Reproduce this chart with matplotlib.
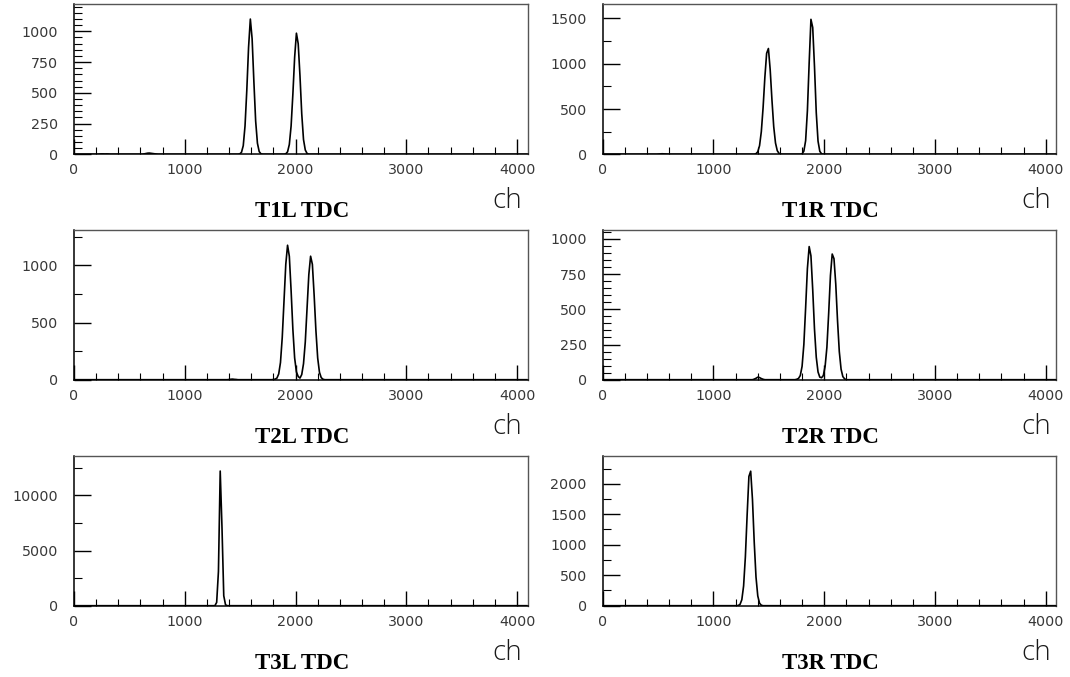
import numpy as np
import matplotlib
matplotlib.use('Agg')
import matplotlib.pyplot as plt
from matplotlib.ticker import MultipleLocator

# TDC spectra, 4096 channels grouped in 16-channel bins
BIN = 16
NCH = 4096
edges = np.arange(0, NCH + BIN, BIN)
centers = 0.5 * (edges[:-1] + edges[1:])

titles = ['T1L TDC', 'T1R TDC', 'T2L TDC', 'T2R TDC', 'T3L TDC', 'T3R TDC']

# (first channel, counts per bin) for every non-empty stretch of each spectrum
t1l = [
    (224, [2, 3, 3, 2, 3, 2]),
    (624, [3, 6, 9, 10, 8, 6, 4, 2]),
    (1488, [3, 16, 70, 230, 520, 870, 1100, 940, 590, 270, 90, 22, 4]),
    (1904, [4, 20, 80, 230, 490, 790, 985, 900, 640, 330, 120, 35, 7]),
]
t1r = [
    (496, [2, 4, 6, 5, 3, 2]),
    (1376, [7, 28, 95, 250, 515, 850, 1115, 1168, 935, 600, 305, 125, 40, 10, 2]),
    (1792, [5, 35, 150, 480, 1010, 1490, 1400, 970, 460, 145, 33, 5]),
]
t2l = [
    (1392, [2, 4, 5, 3, 2]),
    (1792, [2, 5, 14, 50, 150, 370, 700, 1010, 1177, 1080, 780, 440, 190, 68,
            28, 14, 45, 140, 330, 630, 920, 1081, 1010, 740, 430, 190, 65, 18, 4]),
]
t2r = [
    (1360, [4, 10, 18, 15, 8, 3]),
    (1744, [3, 9, 30, 95, 250, 510, 790, 946, 880, 640, 360, 160, 55, 18,
            14, 30, 95, 230, 470, 740, 893, 860, 680, 420, 200, 75, 22, 6]),
]
t3l = [
    (1280, [300, 3100, 12200, 7100, 900, 80]),
]
t3r = [
    (1216, [4, 22, 98, 323, 800, 1490, 2120, 2206, 1745, 1040, 470, 160, 40, 8]),
]
spectra = [t1l, t1r, t2l, t2r, t3l, t3r]

# y range, major and minor y tick steps of each pad
y_max = [1220, 1656, 1313, 1066, 13590, 2460]
y_major = [250, 500, 500, 250, 5000, 500]
y_minor = [50, 250, 250, 50, 2500, 250]


def fill_bins(segments):
    counts = np.zeros(len(edges) - 1)
    for start, vals in segments:
        i = start // BIN
        counts[i:i + len(vals)] = vals
    return counts


W, H = 1070, 677
fig = plt.figure(figsize=(W / 100, H / 100), dpi=100)

pad_left = [74, 602.7]
pad_top = [4.3, 229.7, 455.7]
pad_w, pad_h = 453.7, 150.0

for k in range(6):
    row, col = divmod(k, 2)
    x0, y0 = pad_left[col], pad_top[row]
    ax = fig.add_axes([x0 / W, 1 - (y0 + pad_h) / H, pad_w / W, pad_h / H])

    ax.plot(centers, fill_bins(spectra[k]), color='black', lw=1.2)

    ax.set_xlim(0, NCH)
    ax.set_ylim(0, y_max[k])
    ax.xaxis.set_major_locator(MultipleLocator(1000))
    ax.xaxis.set_minor_locator(MultipleLocator(200))
    ax.yaxis.set_major_locator(MultipleLocator(y_major[k]))
    ax.yaxis.set_minor_locator(MultipleLocator(y_minor[k]))

    ax.tick_params(axis='x', which='major', direction='in', length=11, width=1.0, pad=6.5)
    ax.tick_params(axis='x', which='minor', direction='in', length=5, width=0.8)
    ax.tick_params(axis='y', which='major', direction='in', length=12, width=1.0, pad=11.5)
    ax.tick_params(axis='y', which='minor', direction='in', length=6, width=0.8)
    ax.tick_params(top=False, right=False, labelcolor='#383838')
    for lab in ax.get_xticklabels() + ax.get_yticklabels():
        lab.set_fontfamily('DejaVu Sans')
        lab.set_fontsize(10.3)

    for side in ['left', 'bottom']:
        ax.spines[side].set_color('black')
        ax.spines[side].set_linewidth(1.1)
    for side in ['top', 'right']:
        ax.spines[side].set_color('#555555')
        ax.spines[side].set_linewidth(1.0)

    # pad title below and axis unit at the lower right
    fig.text((x0 + 228) / W, 1 - (y0 + 207.5) / H, titles[k],
             family='Liberation Serif', weight='bold', size=16.5,
             ha='center', va='center')
    fig.text((x0 + 433) / W, 1 - (y0 + 204) / H, 'ch',
             family='Open Sans', weight='light', size=20, color='#1a1a1a',
             ha='center', va='baseline')

fig.savefig('out.png', dpi=100)
